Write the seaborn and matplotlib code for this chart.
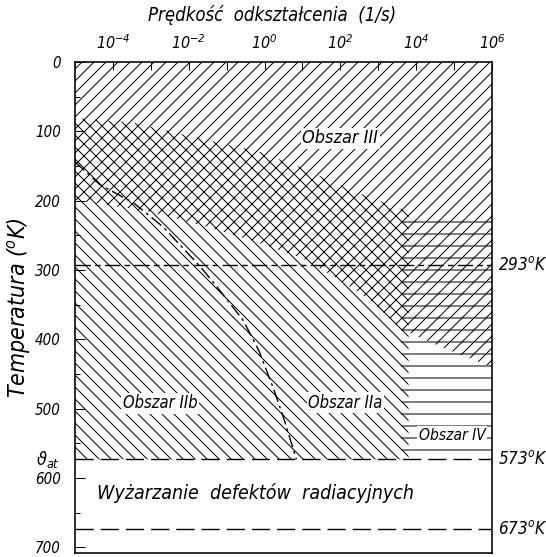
import numpy as np
import pandas as pd
import matplotlib
matplotlib.use("Agg")
import matplotlib.pyplot as plt
import seaborn as sns

# ---- data -------------------------------------------------------------
# strain-rate axis, log10 of (1/s)
rate_lim_log = [-5, 6]
rate_tick_log = list(range(-5, 7))
rate_label_log = [-4, -2, 0, 2, 4, 6]
# temperature axis, K (drawn top-down)
temp_lim = [708, 0]
temp_ticks = [0, 100, 200, 300, 400, 500, 600, 700]
temp_minor = [50, 150, 250, 350, 450, 550, 650]

# upper edge of region II (thermally activated deformation)
ii_top_log = [-5.0, -3.5, -1.7, -0.1, 1.0, 2.3, 3.8]
ii_top_T = [81, 87, 110, 130, 153, 185, 216]
# lower edge of region III
iii_low_log = [-5.0, -3.0, -1.7, -0.35, 1.0, 2.0, 2.8, 3.6, 4.7, 6.0]
iii_low_T = [199, 216, 235, 257, 283, 315, 344, 385, 412, 440]
# region IV (high rates)
iv_left_log = 3.6
iv_top_T = 218
# boundary between IIb and IIa
split_log = [-5.0, -4.34, -3.46, -2.67, -1.68, -1.23, -0.57, -0.15, 0.25, 0.52, 0.84]
split_T = [144, 177, 203, 238, 296, 326, 372, 416, 473, 516, 573]

T_room = 293
T_at = 573
T_anneal = 673

# ---- style ------------------------------------------------------------
sns.set_theme(style="white")
plt.rcParams["font.family"] = ["DejaVu Sans"]
plt.rcParams["font.style"] = "italic"
plt.rcParams["font.stretch"] = "condensed"
plt.rcParams["mathtext.fontset"] = "custom"
plt.rcParams["mathtext.rm"] = "DejaVu Sans:italic:stretch=condensed"
plt.rcParams["mathtext.it"] = "DejaVu Sans:italic:stretch=condensed"
plt.rcParams["text.color"] = "black"
plt.rcParams["axes.labelcolor"] = "black"
plt.rcParams["xtick.color"] = "black"
plt.rcParams["ytick.color"] = "black"
plt.rcParams["hatch.color"] = "black"
plt.rcParams["hatch.linewidth"] = 1.0

W, H, DPI = 546, 557, 72
fig = plt.figure(figsize=(W / DPI, H / DPI), dpi=DPI)
ax = fig.add_axes([75 / W, 1 - 553 / H, 417 / W, 491 / H])
ax.set_xscale("log")
ax.set_xlim(10.0 ** rate_lim_log[0], 10.0 ** rate_lim_log[1])
ax.set_ylim(*temp_lim)

x_hi = 10.0 ** rate_lim_log[1]

# region III: "/" hatching from 0 K down to its lower edge
ax.fill_between(10.0 ** np.array(iii_low_log), 0, iii_low_T,
                hatch="//", facecolor="none", edgecolor="black", linewidth=0)
# region II: "\" hatching from its upper edge down to the annealing temperature
ax.fill_between(10.0 ** np.array(ii_top_log), ii_top_T, T_at,
                hatch="\\\\", facecolor="none", edgecolor="black", linewidth=0)
# region IV: horizontal hatching at high strain rates
ax.fill_between([10.0 ** iv_left_log, x_hi], iv_top_T, T_at,
                hatch="-", facecolor="none", edgecolor="black", linewidth=0)

# IIa / IIb boundary
split_df = pd.DataFrame({"rate": 10.0 ** np.array(split_log), "T": split_T})
sns.lineplot(data=split_df, x="rate", y="T", ax=ax, color="black", lw=1.4,
             linestyle=(0, (9, 3, 2, 3)), sort=False, estimator=None)

# characteristic temperatures
ax.axhline(T_room, color="black", lw=1.4, linestyle=(0, (11, 3, 4, 3)))
ax.axhline(T_at, color="black", lw=1.4, linestyle=(0, (13, 5)))
ax.axhline(T_anneal, color="black", lw=1.4, linestyle=(0, (13, 5)))

ytr = ax.get_yaxis_transform()
for t in (T_room, T_at, T_anneal):
    ax.text(1.014, t, f"{t}$^o$K", transform=ytr, ha="left", va="center",
            fontsize=17, clip_on=False)
ax.text(-0.065, T_at, r"$\vartheta_{at}$", transform=ytr, ha="center",
        va="center", fontsize=18, clip_on=False)

# region labels
box = dict(facecolor="white", edgecolor="none", pad=1.5)
ax.text(10.0 ** 2.0, 110, "Obszar III", fontsize=18, ha="center", va="center", bbox=box)
ax.text(10.0 ** -2.75, 492, "Obszar IIb", fontsize=16.5, ha="center", va="center", bbox=box)
ax.text(10.0 ** 2.14, 491, "Obszar IIa", fontsize=16.5, ha="center", va="center", bbox=box)
ax.text(10.0 ** 4.95, 538, "Obszar IV", fontsize=15.5, ha="center", va="center", bbox=box)
ax.text(10.0 ** -0.25, 622, "Wyżarzanie  defektów  radiacyjnych", fontsize=19.5,
        ha="center", va="center")

# axes
ax.xaxis.tick_top()
ax.set_xticks([10.0 ** k for k in rate_tick_log])
ax.set_xticklabels([f"$10^{{{k}}}$" if k in rate_label_log else "" for k in rate_tick_log])
ax.xaxis.set_minor_locator(matplotlib.ticker.NullLocator())
ax.tick_params(axis="x", which="major", top=True, bottom=False, direction="in",
               length=8, width=1, pad=10, labelsize=16, colors="black")
ax.set_yticks(temp_ticks)
ax.set_yticks(temp_minor, minor=True)
ax.tick_params(axis="y", which="major", left=True, direction="in", length=10,
               width=1, pad=14, labelsize=15, colors="black")
ax.tick_params(axis="y", which="minor", left=True, direction="in", length=5, width=1)
ax.set_xlabel("")
ax.set_ylabel("Temperatura ($^o$K)", fontsize=23, labelpad=2)
for s in ax.spines.values():
    s.set_visible(True)
    s.set_color("black")
    s.set_linewidth(1.6)

fig.text(272 / W, 1 - 15 / H, "Prędkość  odkształcenia  (1/s)", ha="center",
         va="center", fontsize=18.5)

fig.savefig("out.png", dpi=DPI)
